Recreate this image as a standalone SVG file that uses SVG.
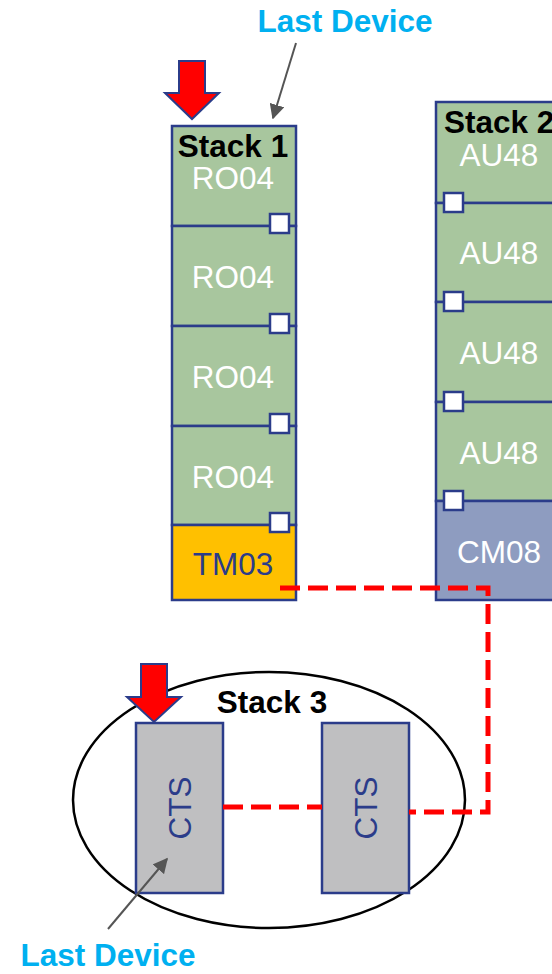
<svg xmlns="http://www.w3.org/2000/svg" width="552" height="974" viewBox="0 0 552 974">
<defs>
<style>
.g{fill:#A8C69E;stroke:#2B3C8A;stroke-width:2.5}
.port{fill:#fff;stroke:#2B3C8A;stroke-width:2.5}
.lbl{font-family:"Liberation Sans",Arial,sans-serif;font-size:31.5px;text-anchor:middle}
.w{fill:#fff}
.b{fill:#000;font-weight:bold}
.dk{fill:#2B3C8A}
.cy{fill:#00B0F0;font-weight:bold;font-family:"Liberation Sans",Arial,sans-serif;font-size:31.5px;text-anchor:middle}
.dash{fill:none;stroke:#FF0000;stroke-width:5;stroke-dasharray:20,8}
.ptr{stroke:#555;stroke-width:2;fill:none}
.red{fill:#FF0000;stroke:#2B3C8A;stroke-width:2}
</style>
<marker id="ah" viewBox="0 0 10 10" refX="9" refY="5" markerWidth="15" markerHeight="15" markerUnits="userSpaceOnUse" orient="auto"><path d="M0,0 L10,5 L0,10 z" fill="#555"/></marker>
</defs>

<g id="stack3">
<ellipse cx="269" cy="800" rx="196" ry="128" fill="none" stroke="#000" stroke-width="2.5"/>
<text class="lbl b" x="272" y="713">Stack 3</text>
</g>

<g id="cts1">
<rect x="136" y="723" width="87" height="170" fill="#BFBFC1" stroke="#2B3C8A" stroke-width="2.5"/>
<text class="lbl dk" transform="translate(191,808) rotate(-90)">CTS</text>
</g>
<g id="cts2">
<rect x="322" y="723" width="87" height="170" fill="#BFBFC1" stroke="#2B3C8A" stroke-width="2.5"/>
<text class="lbl dk" transform="translate(377,808) rotate(-90)">CTS</text>
</g>

<g id="stack1">
<rect class="g" x="172" y="126" width="124" height="100"/>
<rect class="g" x="172" y="226" width="124" height="100"/>
<rect class="g" x="172" y="326" width="124" height="100"/>
<rect class="g" x="172" y="426" width="124" height="99"/>
<rect x="172" y="525" width="124" height="75" fill="#FFC000" stroke="#2B3C8A" stroke-width="2.5"/>
<rect class="port" x="270" y="214" width="19" height="19"/>
<rect class="port" x="270" y="314" width="19" height="19"/>
<rect class="port" x="270" y="414" width="19" height="19"/>
<rect class="port" x="270" y="513" width="19" height="19"/>
<text class="lbl b" x="233" y="157">Stack 1</text>
<text class="lbl w" x="233" y="189">RO04</text>
<text class="lbl w" x="233" y="288">RO04</text>
<text class="lbl w" x="233" y="388">RO04</text>
<text class="lbl w" x="233" y="488">RO04</text>
<text class="lbl dk" x="233" y="575">TM03</text>
</g>

<g id="stack2">
<rect class="g" x="436" y="102" width="130" height="101"/>
<rect class="g" x="436" y="203" width="130" height="99"/>
<rect class="g" x="436" y="302" width="130" height="100"/>
<rect class="g" x="436" y="402" width="130" height="99"/>
<rect x="436" y="501" width="130" height="99" fill="#8E9CC0" stroke="#2B3C8A" stroke-width="2.5"/>
<rect class="port" x="444" y="193" width="19" height="19"/>
<rect class="port" x="444" y="292" width="19" height="19"/>
<rect class="port" x="444" y="392" width="19" height="19"/>
<rect class="port" x="444" y="491" width="19" height="19"/>
<text class="lbl b" x="444" y="133" style="text-anchor:start">Stack 2</text>
<text class="lbl w" x="499" y="166">AU48</text>
<text class="lbl w" x="499" y="264">AU48</text>
<text class="lbl w" x="499" y="364">AU48</text>
<text class="lbl w" x="499" y="464">AU48</text>
<text class="lbl w" x="499" y="563">CM08</text>
</g>

<g id="connectors">
<path class="dash" d="M280,588 H488 V812 H409"/>
<path class="dash" d="M223,807 H322"/>
</g>

<g id="arrow1">
<path class="red" d="M179,61 H205 V93 H219 L192,119 L165,93 H179 Z"/>
</g>
<g id="arrow3">
<path class="red" d="M141,664 H167 V697 H181 L154,722 L127,697 H141 Z"/>
</g>

<g id="lastdev1">
<text class="cy" x="345" y="32">Last Device</text>
<line class="ptr" x1="296" y1="43" x2="273" y2="118" marker-end="url(#ah)"/>
</g>
<g id="lastdev3">
<text class="cy" x="108" y="966">Last Device</text>
<line class="ptr" x1="108" y1="929" x2="167" y2="859" marker-end="url(#ah)"/>
</g>
</svg>
